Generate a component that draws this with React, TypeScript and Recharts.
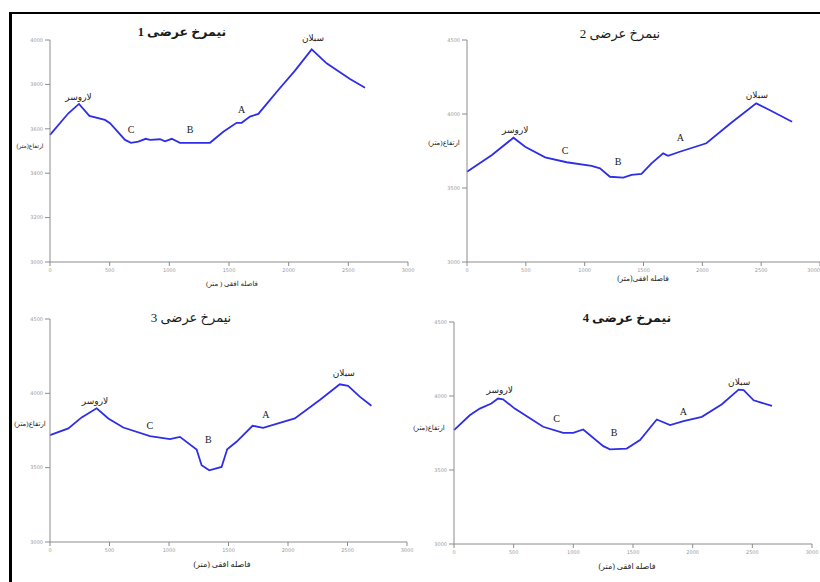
import { LineChart, Line, XAxis, YAxis, ReferenceDot } from 'recharts';

// horizontal distance (m) and elevation (m) along each cross profile
const dist1 = [0, 154, 243, 330, 461, 503, 629, 679, 740, 802, 838, 922, 964, 1020, 1089, 1341, 1452, 1564, 1606, 1676, 1746, 1816, 1913, 2053, 2193, 2318, 2514, 2640];
const elev1 = [3573, 3670, 3712, 3658, 3640, 3625, 3550, 3537, 3542, 3555, 3550, 3553, 3544, 3555, 3537, 3537, 3587, 3627, 3627, 3655, 3667, 3712, 3775, 3862, 3958, 3895, 3824, 3785];

const dist2 = [0, 212, 395, 494, 664, 847, 1059, 1130, 1215, 1328, 1398, 1483, 1568, 1667, 1709, 1808, 2034, 2246, 2458, 2571, 2763];
const elev2 = [3610, 3723, 3840, 3779, 3707, 3674, 3649, 3633, 3576, 3570, 3588, 3595, 3667, 3734, 3718, 3745, 3802, 3941, 4072, 4027, 3948];

const dist3 = [0, 154, 266, 392, 490, 616, 840, 1008, 1092, 1232, 1274, 1338, 1442, 1489, 1567, 1702, 1791, 2057, 2267, 2435, 2505, 2603, 2701];
const elev3 = [3719, 3764, 3838, 3899, 3831, 3770, 3712, 3692, 3707, 3622, 3516, 3482, 3505, 3624, 3674, 3782, 3768, 3831, 3955, 4061, 4050, 3978, 3917];

const dist4 = [0, 132, 216, 313, 369, 411, 509, 747, 915, 999, 1083, 1251, 1307, 1447, 1559, 1699, 1811, 1923, 2077, 2245, 2385, 2427, 2511, 2665];
const elev4 = [3769, 3870, 3915, 3949, 3983, 3978, 3915, 3792, 3751, 3751, 3774, 3661, 3639, 3645, 3702, 3841, 3803, 3830, 3859, 3944, 4043, 4039, 3971, 3933];

const xTicks = [0, 500, 1000, 1500, 2000, 2500, 3000];
const yTicks1 = [3000, 3200, 3400, 3600, 3800, 4000];
const yTicks = [3000, 3500, 4000, 4500];

// place names on each profile
const placeNames = ['سبلان', 'لاروسر', 'C', 'B', 'A'];
const placeX1 = [2204, 239, 679, 1173, 1606];
const placeY1 = [4009, 3743, 3598, 3595, 3688];
const placeX2 = [2463, 410, 833, 1285, 1814];
const placeY2 = [4133, 3892, 3752, 3678, 3840];
const placeX3 = [2469, 378, 840, 1330, 1814];
const placeY3 = [4135, 3948, 3786, 3692, 3860];
const placeX4 = [2390, 383, 859, 1341, 1923];
const placeY4 = [4095, 4039, 3848, 3751, 3893];

const BLUE = '#2e2ee6';
const AXIS = '#8c8c8c';
const SERIF = '"Liberation Serif", "DejaVu Sans", serif';

const toRows = (d: number[], e: number[]) => d.map((x, i) => ({ x, y: e[i] }));

// keeps the last x tick label inside the page when the plot reaches the edge
function XTick(props: any) {
  const { x, y, payload, edge } = props;
  const anchor = edge && x > edge - 8 ? 'end' : 'middle';
  return (
    <text x={x} y={y} dy={4} textAnchor={anchor} fontSize={5} fill="#9a9a9a" fontFamily="DejaVu Sans">
      {payload.value}
    </text>
  );
}

type PanelProps = {
  left: number;
  top: number;
  w: number;
  h: number;
  rightPad: number;
  dist: number[];
  elev: number[];
  yDomain: [number, number];
  yT: number[];
  px: number[];
  py: number[];
};

function Panel({ left, top, w, h, rightPad, dist, elev, yDomain, yT, px, py }: PanelProps) {
  const data = toRows(dist, elev);
  const chartW = w + 40 + rightPad;
  const edge = rightPad === 0 ? chartW : 0;
  return (
    <div style={{ position: 'absolute', left: left - 40, top: top - 20 }}>
      <LineChart
        width={chartW}
        height={h + 50}
        data={data}
        margin={{ top: 20, right: rightPad, left: 10, bottom: 14 }}
      >
        <XAxis
          dataKey="x"
          type="number"
          domain={[0, 3000]}
          ticks={xTicks}
          interval={0}
          height={16}
          stroke={AXIS}
          tickSize={4}
          tick={(p: any) => <XTick {...p} edge={edge} />}
        />
        <YAxis
          type="number"
          domain={yDomain}
          ticks={yT}
          interval={0}
          width={30}
          stroke={AXIS}
          tickSize={5}
          tick={{ fontSize: 5, fill: '#9a9a9a', fontFamily: 'DejaVu Sans' }}
        />
        <Line
          type="linear"
          dataKey="y"
          stroke={BLUE}
          strokeWidth={1.8}
          dot={false}
          isAnimationActive={false}
        />
        {placeNames.map((name, i) => (
          <ReferenceDot
            key={name}
            x={px[i]}
            y={py[i]}
            r={0}
            ifOverflow="visible"
            label={{
              value: name,
              position: 'center',
              fontSize: i < 2 ? 9 : 10,
              fill: '#222',
              fontFamily: SERIF,
            }}
          />
        ))}
      </LineChart>
    </div>
  );
}

function Text({ x, y, size, bold, children }: { x: number; y: number; size: number; bold?: boolean; children: string }) {
  return (
    <div
      style={{
        position: 'absolute',
        left: x,
        top: y,
        transform: 'translate(-50%, -50%)',
        whiteSpace: 'nowrap',
        direction: 'rtl',
        fontFamily: SERIF,
        fontSize: size,
        fontWeight: bold ? 'bold' : 'normal',
        color: '#1a1a1a',
        lineHeight: 1,
      }}
    >
      {children}
    </div>
  );
}

export default function App() {
  return (
    <div
      style={{
        position: 'absolute',
        left: 0,
        top: 0,
        width: 820,
        height: 582,
        background: '#fff',
        overflow: 'hidden',
      }}
    >
      <div style={{ position: 'absolute', left: 9, top: 12, width: 811, height: 2, background: '#000' }} />
      <div style={{ position: 'absolute', left: 9, top: 12, width: 3, height: 570, background: '#000' }} />

      <Panel left={50} top={40} w={358} h={222} rightPad={8} dist={dist1} elev={elev1}
        yDomain={[3000, 4000]} yT={yTicks1} px={placeX1} py={placeY1} />
      <Panel left={467} top={40} w={353} h={222} rightPad={0} dist={dist2} elev={elev2}
        yDomain={[3000, 4500]} yT={yTicks} px={placeX2} py={placeY2} />
      <Panel left={50} top={319} w={357} h={223} rightPad={8} dist={dist3} elev={elev3}
        yDomain={[3000, 4500]} yT={yTicks} px={placeX3} py={placeY3} />
      <Panel left={454} top={322} w={358} h={222} rightPad={8} dist={dist4} elev={elev4}
        yDomain={[3000, 4500]} yT={yTicks} px={placeX4} py={placeY4} />

      <Text x={182} y={32} size={12.5} bold>نیمرخ عرضی 1</Text>
      <Text x={620} y={33} size={13}>نیمرخ عرضی 2</Text>
      <Text x={191} y={317} size={13}>نیمرخ عرضی 3</Text>
      <Text x={627} y={318} size={12.5} bold>نیمرخ عرضی 4</Text>

      <Text x={232} y={284} size={7}>فاصله افقی ( متر)</Text>
      <Text x={643} y={279} size={7.5}>فاصله افقی(متر)</Text>
      <Text x={222} y={565} size={8}>فاصله افقی (متر)</Text>
      <Text x={627} y={567} size={8}>فاصله افقی (متر)</Text>

      <Text x={30} y={146} size={6}>ارتفاع(متر)</Text>
      <Text x={444} y={143} size={7}>ارتفاع(متر)</Text>
      <Text x={30} y={424} size={7}>ارتفاع(متر)</Text>
      <Text x={429} y={428} size={7}>ارتفاع(متر)</Text>
    </div>
  );
}
